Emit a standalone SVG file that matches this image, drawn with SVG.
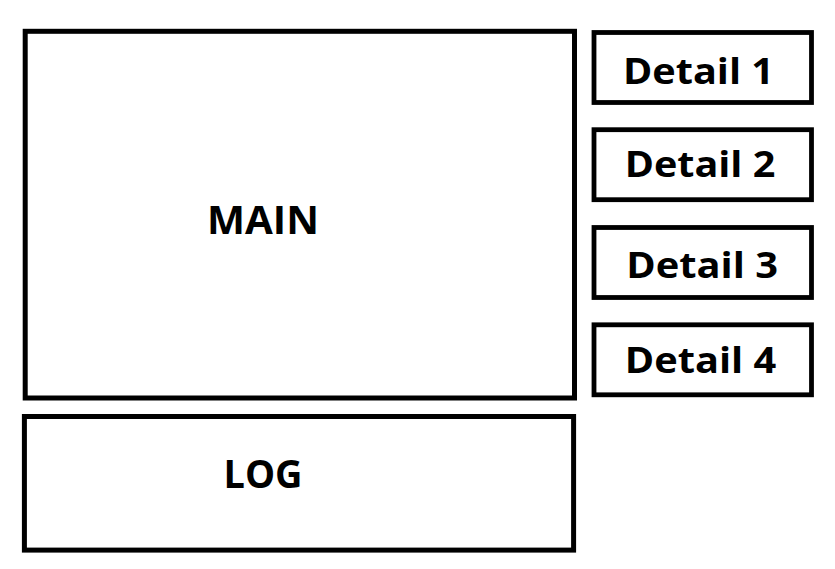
<svg xmlns="http://www.w3.org/2000/svg" width="835" height="569" viewBox="0 0 835 569">
<style>
.box{fill:#fff;stroke:#000;stroke-width:5}
.dbox{fill:#fff;stroke:#000;stroke-width:4.8}
.lbl{font-family:"Open Sans","Noto Sans","Liberation Sans",sans-serif;font-weight:bold;fill:#000}
.big{font-size:40px}
.small{font-size:36.5px}
</style>
<rect width="835" height="569" fill="#fff"/>
<g id="connectors"/>
<g id="main">
<rect class="box" x="25.2" y="31.3" width="549.3" height="366.7"/>
<text class="lbl big" x="207" y="234.3" textLength="112" lengthAdjust="spacingAndGlyphs">MAIN</text>
</g>
<g id="log">
<rect class="box" x="24.4" y="416.5" width="549.2" height="133.6"/>
<text class="lbl big" x="223.5" y="488.3" textLength="79" lengthAdjust="spacingAndGlyphs">LOG</text>
</g>
<g id="detail1">
<rect class="dbox" x="594" y="32.5" width="217.5" height="70"/>
<text class="lbl small" x="623" y="84.3" textLength="151" lengthAdjust="spacingAndGlyphs">Detail 1</text>
</g>
<g id="detail2">
<rect class="dbox" x="594" y="129.7" width="217.5" height="70"/>
<text class="lbl small" x="624.7" y="176.7" textLength="150.6" lengthAdjust="spacingAndGlyphs">Detail 2</text>
</g>
<g id="detail3">
<rect class="dbox" x="594" y="227.5" width="217.5" height="70"/>
<text class="lbl small" x="626.3" y="277.7" textLength="151.7" lengthAdjust="spacingAndGlyphs">Detail 3</text>
</g>
<g id="detail4">
<rect class="dbox" x="594" y="324.8" width="217.5" height="70"/>
<text class="lbl small" x="624.7" y="372.7" textLength="151.6" lengthAdjust="spacingAndGlyphs">Detail 4</text>
</g>
</svg>
